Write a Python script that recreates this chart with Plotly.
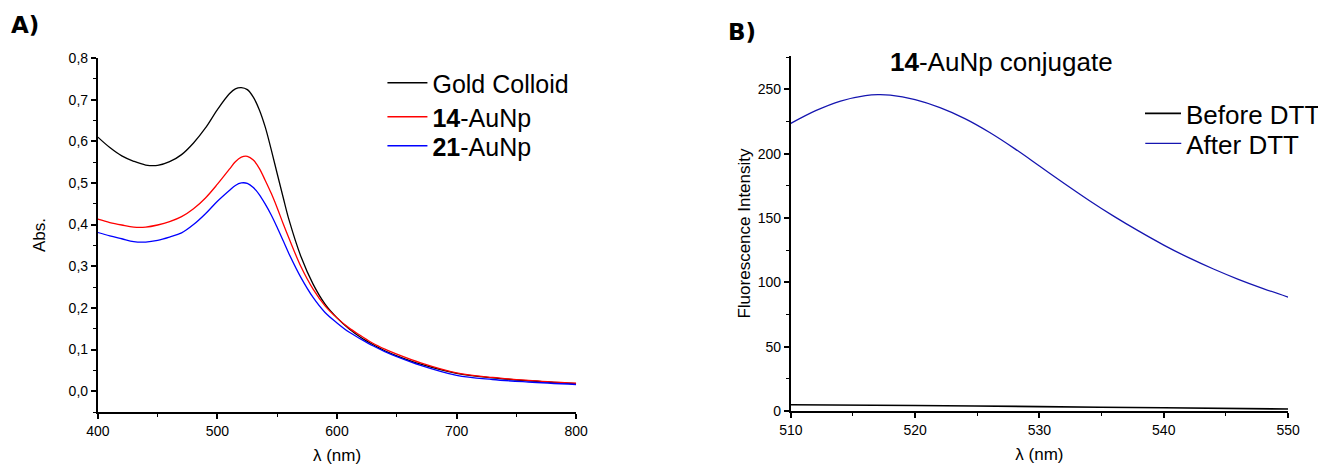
import plotly.graph_objects as go

# Panel A: UV-Vis absorbance
wl_a = [400, 410, 420, 430, 440, 450, 460, 470, 480, 490, 500, 510, 515, 520, 525, 530, 535, 540, 545, 550,
        555, 560, 570, 580, 590, 600, 610, 620, 630, 640, 650, 670, 700, 730, 760, 800]
gold = [0.610, 0.585, 0.565, 0.552, 0.543, 0.542, 0.551, 0.568, 0.596, 0.632, 0.676, 0.714, 0.726, 0.729, 0.724,
        0.706, 0.676, 0.634, 0.580, 0.522, 0.465, 0.410, 0.322, 0.257, 0.209, 0.176, 0.150, 0.129, 0.112, 0.097,
        0.085, 0.065, 0.043, 0.032, 0.025, 0.018]
au14 = [0.413, 0.405, 0.399, 0.394, 0.394, 0.399, 0.407, 0.419, 0.438, 0.464, 0.497, 0.533, 0.551, 0.562, 0.564,
        0.555, 0.535, 0.506, 0.475, 0.440, 0.402, 0.366, 0.298, 0.245, 0.205, 0.176, 0.152, 0.133, 0.115, 0.101,
        0.089, 0.068, 0.044, 0.033, 0.026, 0.019]
au21 = [0.381, 0.373, 0.366, 0.359, 0.358, 0.362, 0.370, 0.380, 0.400, 0.426, 0.456, 0.482, 0.494, 0.500, 0.499,
        0.489, 0.472, 0.449, 0.423, 0.393, 0.361, 0.329, 0.272, 0.225, 0.189, 0.164, 0.142, 0.125, 0.109, 0.095,
        0.083, 0.062, 0.038, 0.028, 0.022, 0.016]

# Panel B: fluorescence
wl_b = [510, 512, 514, 516, 517, 518, 520, 522, 524, 526, 528, 530, 532, 534, 536, 538, 540, 542, 544, 546, 548, 550]
after_dtt = [223.6, 233.5, 241.0, 245.2, 246.0, 245.6, 242.0, 235.8, 227.3, 216.5, 204.0, 190.5, 176.9, 163.7,
             151.3, 139.8, 129.0, 119.2, 110.4, 102.4, 95.2, 88.6]
before_wl = [510, 520, 530, 540, 550]
before_dtt = [4.9, 4.3, 3.4, 2.5, 1.5]

FONT = "Liberation Sans, Arial, sans-serif"
W, H = 1318, 458   # page has an 8px body margin


def px(p):
    return (p - 8) / W


def py(p):
    return 1 - (p - 8) / H


fig = go.Figure()
fig.add_trace(go.Scatter(x=wl_a, y=gold, mode="lines", line=dict(color="black", width=1.3, shape="spline"),
                         name="Gold Colloid", xaxis="x", yaxis="y", legend="legend2"))
fig.add_trace(go.Scatter(x=wl_a, y=au14, mode="lines", line=dict(color="#ff0000", width=1.3, shape="spline"),
                         name="<b>14</b>-AuNp", xaxis="x", yaxis="y", legend="legend3"))
fig.add_trace(go.Scatter(x=wl_a, y=au21, mode="lines", line=dict(color="#0000ff", width=1.3, shape="spline"),
                         name="<b>21</b>-AuNp", xaxis="x", yaxis="y", legend="legend4"))
fig.add_trace(go.Scatter(x=before_wl, y=before_dtt, mode="lines", line=dict(color="black", width=1.6, shape="spline"),
                         name="Before DTT", xaxis="x2", yaxis="y2", legend="legend5"))
fig.add_trace(go.Scatter(x=wl_b, y=after_dtt, mode="lines", line=dict(color="#1515b0", width=1.3, shape="spline"),
                         name="After DTT", xaxis="x2", yaxis="y2", legend="legend6"))

axis_common = dict(showline=True, linecolor="black", linewidth=2, ticks="outside", ticklen=5, tickwidth=1.5,
                   tickcolor="black", showgrid=False, zeroline=False, mirror=False,
                   tickfont=dict(family=FONT, size=14, color="black"), automargin=False)
minor_common = dict(ticks="outside", ticklen=3, tickwidth=1.2, tickcolor="black", showgrid=False)
title_font = dict(family=FONT, size=17, color="black")


def leg(xp, yp, size, iw):
    return dict(x=px(xp), y=py(yp), xanchor="left", yanchor="top", bgcolor="rgba(0,0,0,0)",
                font=dict(family=FONT, size=size, color="black"), itemwidth=iw, visible=True)


fig.update_layout(
    width=W, height=H,
    margin=dict(l=0, r=0, t=0, b=0),
    paper_bgcolor="white", plot_bgcolor="white",
    separators=",.",
    showlegend=True,
    font=dict(family=FONT, color="black"),
    xaxis=dict(domain=[px(98), px(577)], range=[400, 800], dtick=100, anchor="y",
               title=dict(text="λ (nm)", font=title_font, standoff=11),
               minor=dict(dtick=50, **minor_common), **axis_common),
    yaxis=dict(domain=[py(412), py(58)], range=[-0.05, 0.8], dtick=0.1, tick0=0, tickformat=".1f", anchor="x",
               title=dict(text="Abs.", font=title_font, standoff=19),
               minor=dict(dtick=0.05, **minor_common), **axis_common),
    xaxis2=dict(domain=[px(792), px(1290)], range=[510, 550], dtick=10, anchor="y2",
                title=dict(text="λ (nm)", font=title_font, standoff=11),
                minor=dict(dtick=5, **minor_common), **axis_common),
    yaxis2=dict(domain=[py(411), py(56)], range=[0, 276], dtick=50, anchor="x2",
                title=dict(text="Fluorescence Intensity", font=title_font, standoff=3),
                minor=dict(dtick=25, **minor_common), **axis_common),
    legend2=leg(383, 60, 25, 40),
    legend3=leg(383, 94, 25, 40),
    legend4=leg(383, 123, 25, 40),
    legend5=leg(1142, 90, 26, 36),
    legend6=leg(1142, 120, 26, 36),
    annotations=[
        dict(text="<b>A)</b>", x=px(9), y=py(25), xref="paper", yref="paper", xanchor="left", yanchor="middle",
             showarrow=False, font=dict(family="DejaVu Sans, Verdana, sans-serif", size=23, color="black")),
        dict(text="<b>B)</b>", x=px(727), y=py(32), xref="paper", yref="paper", xanchor="left", yanchor="middle",
             showarrow=False, font=dict(family="DejaVu Sans, Verdana, sans-serif", size=23, color="black")),
        dict(text="<b>14</b>-AuNp conjugate", x=px(1003), y=py(62), xref="paper", yref="paper",
             xanchor="center", yanchor="middle", showarrow=False,
             font=dict(family=FONT, size=26, color="black")),
    ],
)

fig.write_html("out.html")
